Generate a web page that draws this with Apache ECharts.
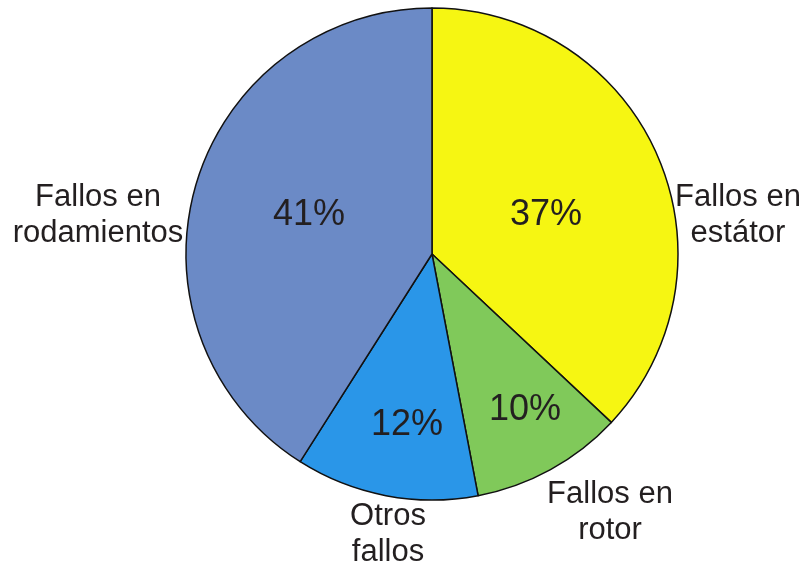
<!DOCTYPE html>
<html><head><meta charset="utf-8">
<script src="https://cdn.jsdelivr.net/npm/echarts@6/dist/echarts.min.js"></script>
<style>html,body{margin:0;padding:0;background:#fff}#c{width:806px;height:567px}</style>
</head><body><div id="c"></div>
<script>
const categories = ['Fallos en\nestátor', 'Fallos en\nrotor', 'Otros\nfallos', 'Fallos en\nrodamientos'];
const values = [37, 10, 12, 41];
const colors = ['#f6f612', '#80c95a', '#2a96e8', '#6b8ac6'];

const CX = 432, CY = 254, R = 246;
// label anchor offsets from pie centre (layout only)
const pctPos = [[114, -39], [93, 156], [-25, 171], [-123, -39]];
const namePos = [[306, -39], [178, 258], [-44, 280], [-334, -39]];

const chart = echarts.init(document.getElementById('c'));
const data = categories.map((c, i) => ({ name: c, value: values[i], itemStyle: { color: colors[i] } }));
const font = '"Liberation Sans", Arial, sans-serif';
chart.setOption({
  animation: false,
  series: [
    {
      type: 'pie', center: [CX, CY], radius: R, startAngle: 90, clockwise: true,
      itemStyle: { borderColor: '#111', borderWidth: 1.5 },
      label: { show: true, position: 'inside', formatter: p => p.value + '%', color: '#231f20', fontSize: 36, fontFamily: font },
      labelLine: { show: false },
      labelLayout: p => ({ x: CX + pctPos[p.dataIndex][0], y: CY + pctPos[p.dataIndex][1], align: 'center', verticalAlign: 'middle' }),
      data: data
    },
    {
      type: 'pie', center: [CX, CY], radius: R, startAngle: 90, clockwise: true, silent: true, z: 1,
      itemStyle: { color: 'rgba(0,0,0,0)', borderWidth: 0 },
      label: { show: true, position: 'outside', formatter: p => p.name, color: '#231f20', fontSize: 31, lineHeight: 36, fontFamily: font, align: 'center', overflow: 'none', width: 300 },
      labelLine: { show: false },
      labelLayout: p => ({ x: CX + namePos[p.dataIndex][0], y: CY + namePos[p.dataIndex][1], align: 'center', verticalAlign: 'middle' }),
      data: categories.map((c, i) => ({ name: c, value: values[i] }))
    }
  ]
});
</script></body></html>
